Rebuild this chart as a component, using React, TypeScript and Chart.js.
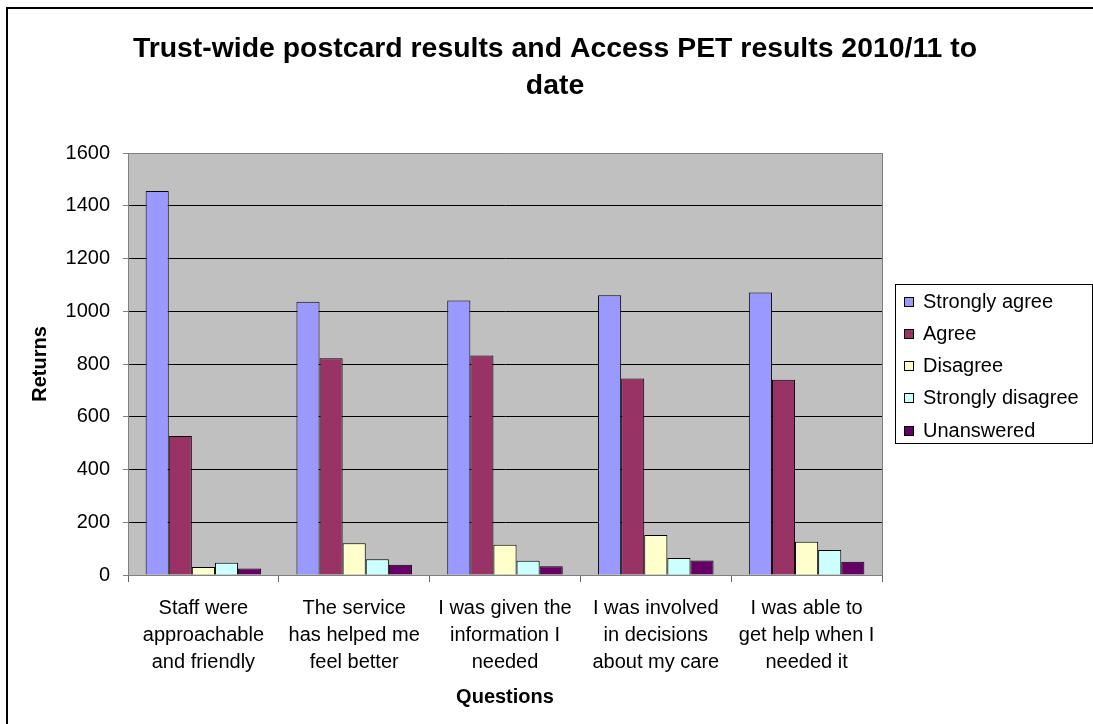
import React, { useEffect, useRef } from "react";
import { Chart, registerables } from "chart.js";

Chart.register(...registerables);

const categories: string[][] = [
  ["Staff were", "approachable", "and friendly"],
  ["The service", "has helped me", "feel better"],
  ["I was given the", "information I", "needed"],
  ["I was involved", "in decisions", "about my care"],
  ["I was able to", "get help when I", "needed it"],
];

const seriesNames = ["Strongly agree", "Agree", "Disagree", "Strongly disagree", "Unanswered"];
const seriesColors = ["#9999FF", "#993366", "#FFFFCC", "#CCFFFF", "#660066"];

const stronglyAgree = [1456, 1036, 1041, 1061, 1071];
const agree = [527, 822, 832, 745, 740];
const disagree = [30, 120, 115, 152, 126];
const stronglyDisagree = [46, 60, 54, 64, 95];
const unanswered = [25, 39, 33, 55, 50];

const titleLines = ["Trust-wide postcard results and Access PET results 2010/11 to", "date"];
const yTitle = "Returns";
const xTitle = "Questions";

const FONT = '"Liberation Sans", Arial, sans-serif';

const framePlugin = {
  id: "frame",
  beforeDraw(chart: any) {
    const { ctx, width, height, chartArea } = chart;
    ctx.save();
    ctx.fillStyle = "#ffffff";
    ctx.fillRect(0, 0, width, height);
    ctx.strokeStyle = "#000000";
    ctx.lineWidth = 2;
    ctx.strokeRect(2, 2, width - 3, height - 3);
    ctx.fillStyle = "#C0C0C0";
    ctx.fillRect(chartArea.left, chartArea.top, chartArea.right - chartArea.left, chartArea.bottom - chartArea.top);
    ctx.restore();
  },
  afterDraw(chart: any) {
    const { ctx, chartArea } = chart;
    ctx.save();
    ctx.strokeStyle = "#808080";
    ctx.lineWidth = 1;
    ctx.beginPath();
    ctx.moveTo(Math.round(chartArea.right) + 0.5, chartArea.top);
    ctx.lineTo(Math.round(chartArea.right) + 0.5, chartArea.bottom);
    ctx.stroke();

    // legend
    const lx = 890, ly = 278, lw = 197, lh = 159;
    ctx.fillStyle = "#ffffff";
    ctx.fillRect(lx, ly, lw, lh);
    ctx.strokeStyle = "#000000";
    ctx.strokeRect(lx + 0.5, ly + 0.5, lw, lh);
    ctx.font = "20px " + FONT;
    ctx.textBaseline = "middle";
    ctx.textAlign = "left";
    chart.data.datasets.forEach((ds: any, i: number) => {
      const cy = ly + 17.5 + i * 32.3;
      const top = Math.round(cy - 5);
      ctx.fillStyle = ds.backgroundColor;
      ctx.fillRect(899, top, 10, 10);
      ctx.strokeStyle = "#000000";
      ctx.strokeRect(899.5, top + 0.5, 9, 9);
      ctx.fillStyle = "#000000";
      ctx.fillText(ds.label, 918, cy + 0.5);
    });
    ctx.restore();
  },
};

export default function App() {
  const ref = useRef<HTMLCanvasElement | null>(null);

  useEffect(() => {
    if (!ref.current) return;
    const seriesValues = [stronglyAgree, agree, disagree, stronglyDisagree, unanswered];
    const chart = new Chart(ref.current, {
      type: "bar",
      data: {
        labels: categories,
        datasets: seriesNames.map((name, i) => ({
          label: name,
          data: seriesValues[i],
          backgroundColor: seriesColors[i],
          borderColor: "#000000",
          borderWidth: 1,
          categoryPercentage: 0.766,
          barPercentage: 1,
        })),
      },
      options: {
        animation: false,
        responsive: false,
        devicePixelRatio: 1,
        layout: { padding: 0 },
        plugins: {
          legend: { display: false },
          tooltip: { enabled: false },
          title: {
            display: true,
            text: titleLines,
            color: "#000000",
            font: { family: FONT, size: 28.4, weight: "bold", lineHeight: "37px" },
            padding: { top: 25, bottom: 48 },
          },
        },
        scales: {
          x: {
            grid: {
              drawOnChartArea: false,
              drawTicks: true,
              tickLength: 7,
              color: "#666666",
              offset: true,
            },
            border: { display: true, color: "#808080" },
            ticks: {
              color: "#000000",
              font: { family: FONT, size: 20, lineHeight: "27px" },
              padding: 13,
              maxRotation: 0,
              autoSkip: false,
            },
            title: {
              display: true,
              text: xTitle,
              color: "#000000",
              font: { family: FONT, size: 20, weight: "bold", lineHeight: 1.2 },
              padding: { top: 0, bottom: 17 },
            },
            afterFit: (s: any) => {
              s.height = 151;
            },
          },
          y: {
            min: 0,
            max: 1600,
            ticks: {
              stepSize: 200,
              color: "#000000",
              font: { family: FONT, size: 20 },
              padding: 13,
              callback: (v: any) => String(v),
            },
            grid: {
              color: (c: any) => (c.tick && c.tick.value === 1600 ? "#808080" : "#000000"),
              tickColor: "#808080",
              tickLength: 5,
              lineWidth: 1,
            },
            border: { display: true, color: "#808080" },
            title: {
              display: true,
              text: yTitle,
              color: "#000000",
              font: { family: FONT, size: 20, weight: "bold", lineHeight: 1.2 },
              padding: { top: 23, bottom: 0 },
            },
            afterFit: (s: any) => {
              s.width = 123;
            },
          },
          yRight: {
            type: "linear",
            position: "right",
            display: true,
            grid: { display: false, drawTicks: false },
            ticks: { display: false },
            border: { display: false },
            afterFit: (s: any) => {
              s.width = 223;
            },
          },
        },
      } as any,
      plugins: [framePlugin],
    });
    return () => chart.destroy();
  }, []);

  return (
    <div
      style={{
        position: "fixed",
        left: 0,
        top: 0,
        width: 1093,
        height: 724,
        overflow: "hidden",
        background: "#ffffff",
      }}
    >
      <canvas
        ref={ref}
        width={1100}
        height={720}
        style={{ position: "absolute", left: 5, top: 6, width: 1100, height: 720 }}
      />
    </div>
  );
}
